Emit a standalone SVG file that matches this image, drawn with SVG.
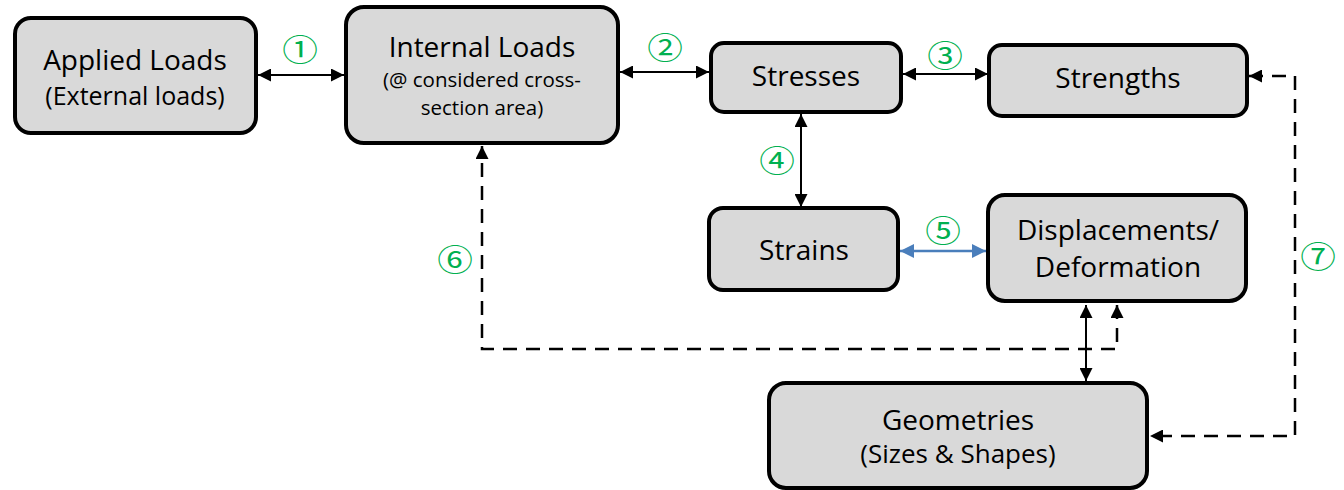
<svg xmlns="http://www.w3.org/2000/svg" width="1344" height="490" viewBox="0 0 1344 490">
<style>
.box{fill:#D9D9D9;stroke:#000;stroke-width:4}
.t{font-family:"Open Sans","Liberation Sans",sans-serif;fill:#000;text-anchor:middle}
.big{font-size:28px}
.mid{font-size:25px}
.small{font-size:20.5px}
.num{font-family:"Noto Sans CJK JP","DejaVu Sans",sans-serif;font-size:31px;fill:#00B050;text-anchor:middle}
.c{fill:none;stroke:#000;stroke-width:2}
.cb{fill:none;stroke:#4A7EBB;stroke-width:2.5}
.d{fill:none;stroke:#000;stroke-width:2.5;stroke-dasharray:14 9}
</style>
<defs>
<marker id="ah" viewBox="0 0 10 10" refX="10" refY="5" markerWidth="13" markerHeight="13" markerUnits="userSpaceOnUse" orient="auto-start-reverse"><path d="M0,0L10,5L0,10z" fill="#000"/></marker>
<marker id="ahb" viewBox="0 0 10 10" refX="10" refY="5" markerWidth="14" markerHeight="14" markerUnits="userSpaceOnUse" orient="auto-start-reverse"><path d="M0,0L10,5L0,10z" fill="#4A7EBB"/></marker>
</defs>
<g id="connectors">
<line class="c" x1="258" y1="75" x2="344" y2="75" marker-start="url(#ah)" marker-end="url(#ah)"/>
<line class="c" x1="620" y1="72" x2="709" y2="72" marker-start="url(#ah)" marker-end="url(#ah)"/>
<line class="c" x1="903" y1="74" x2="988" y2="74" marker-start="url(#ah)" marker-end="url(#ah)"/>
<line class="c" x1="801" y1="114" x2="801" y2="207" marker-start="url(#ah)" marker-end="url(#ah)"/>
<line class="cb" x1="900" y1="251" x2="986" y2="251" marker-start="url(#ahb)" marker-end="url(#ahb)"/>
<line class="c" x1="1086" y1="305" x2="1086" y2="381" marker-start="url(#ah)" marker-end="url(#ah)"/>
<polyline class="d" points="1117,305 1117,349 482,349 482,146" marker-start="url(#ah)" marker-end="url(#ah)"/>
<polyline class="d" points="1249,76 1295,76 1295,436 1150,436" marker-start="url(#ah)" marker-end="url(#ah)"/>
<text class="num" transform="translate(300,61) scale(1.15,1)">①</text>
<text class="num" transform="translate(665,59) scale(1.15,1)">②</text>
<text class="num" transform="translate(945,67) scale(1.15,1)">③</text>
<text class="num" transform="translate(777,172) scale(1.15,1)">④</text>
<text class="num" transform="translate(943,242) scale(1.15,1)">⑤</text>
<text class="num" transform="translate(455,271) scale(1.15,1)">⑥</text>
<text class="num" transform="translate(1318,268) scale(1.15,1)">⑦</text>
</g>
<g id="applied">
<rect class="box" x="15" y="18" width="241" height="115" rx="16"/>
<text class="t big" x="135" y="70">Applied Loads</text>
<text class="t mid" x="135" y="105">(External loads)</text>
</g>
<g id="internal">
<rect class="box" x="346" y="7" width="272" height="136" rx="18"/>
<text class="t big" x="482" y="57">Internal Loads</text>
<text class="t small" x="482" y="87">(@ considered cross-</text>
<text class="t small" x="482" y="115">section area)</text>
</g>
<g id="stresses">
<rect class="box" x="711" y="43" width="190" height="69" rx="13"/>
<text class="t big" x="806" y="86">Stresses</text>
</g>
<g id="strengths">
<rect class="box" x="989" y="45" width="258" height="71" rx="13"/>
<text class="t big" x="1118" y="88">Strengths</text>
</g>
<g id="strains">
<rect class="box" x="709" y="208" width="189" height="82" rx="14"/>
<text class="t big" x="804" y="260">Strains</text>
</g>
<g id="displacements">
<rect class="box" x="988" y="195" width="258" height="106" rx="17"/>
<text class="t big" x="1118" y="240">Displacements/</text>
<text class="t big" x="1118" y="277">Deformation</text>
</g>
<g id="geometries">
<rect class="box" x="769" y="383" width="378" height="105" rx="17"/>
<text class="t big" x="958" y="430">Geometries</text>
<text class="t mid" x="958" y="463" style="font-size:26px">(Sizes &amp; Shapes)</text>
</g>
</svg>
